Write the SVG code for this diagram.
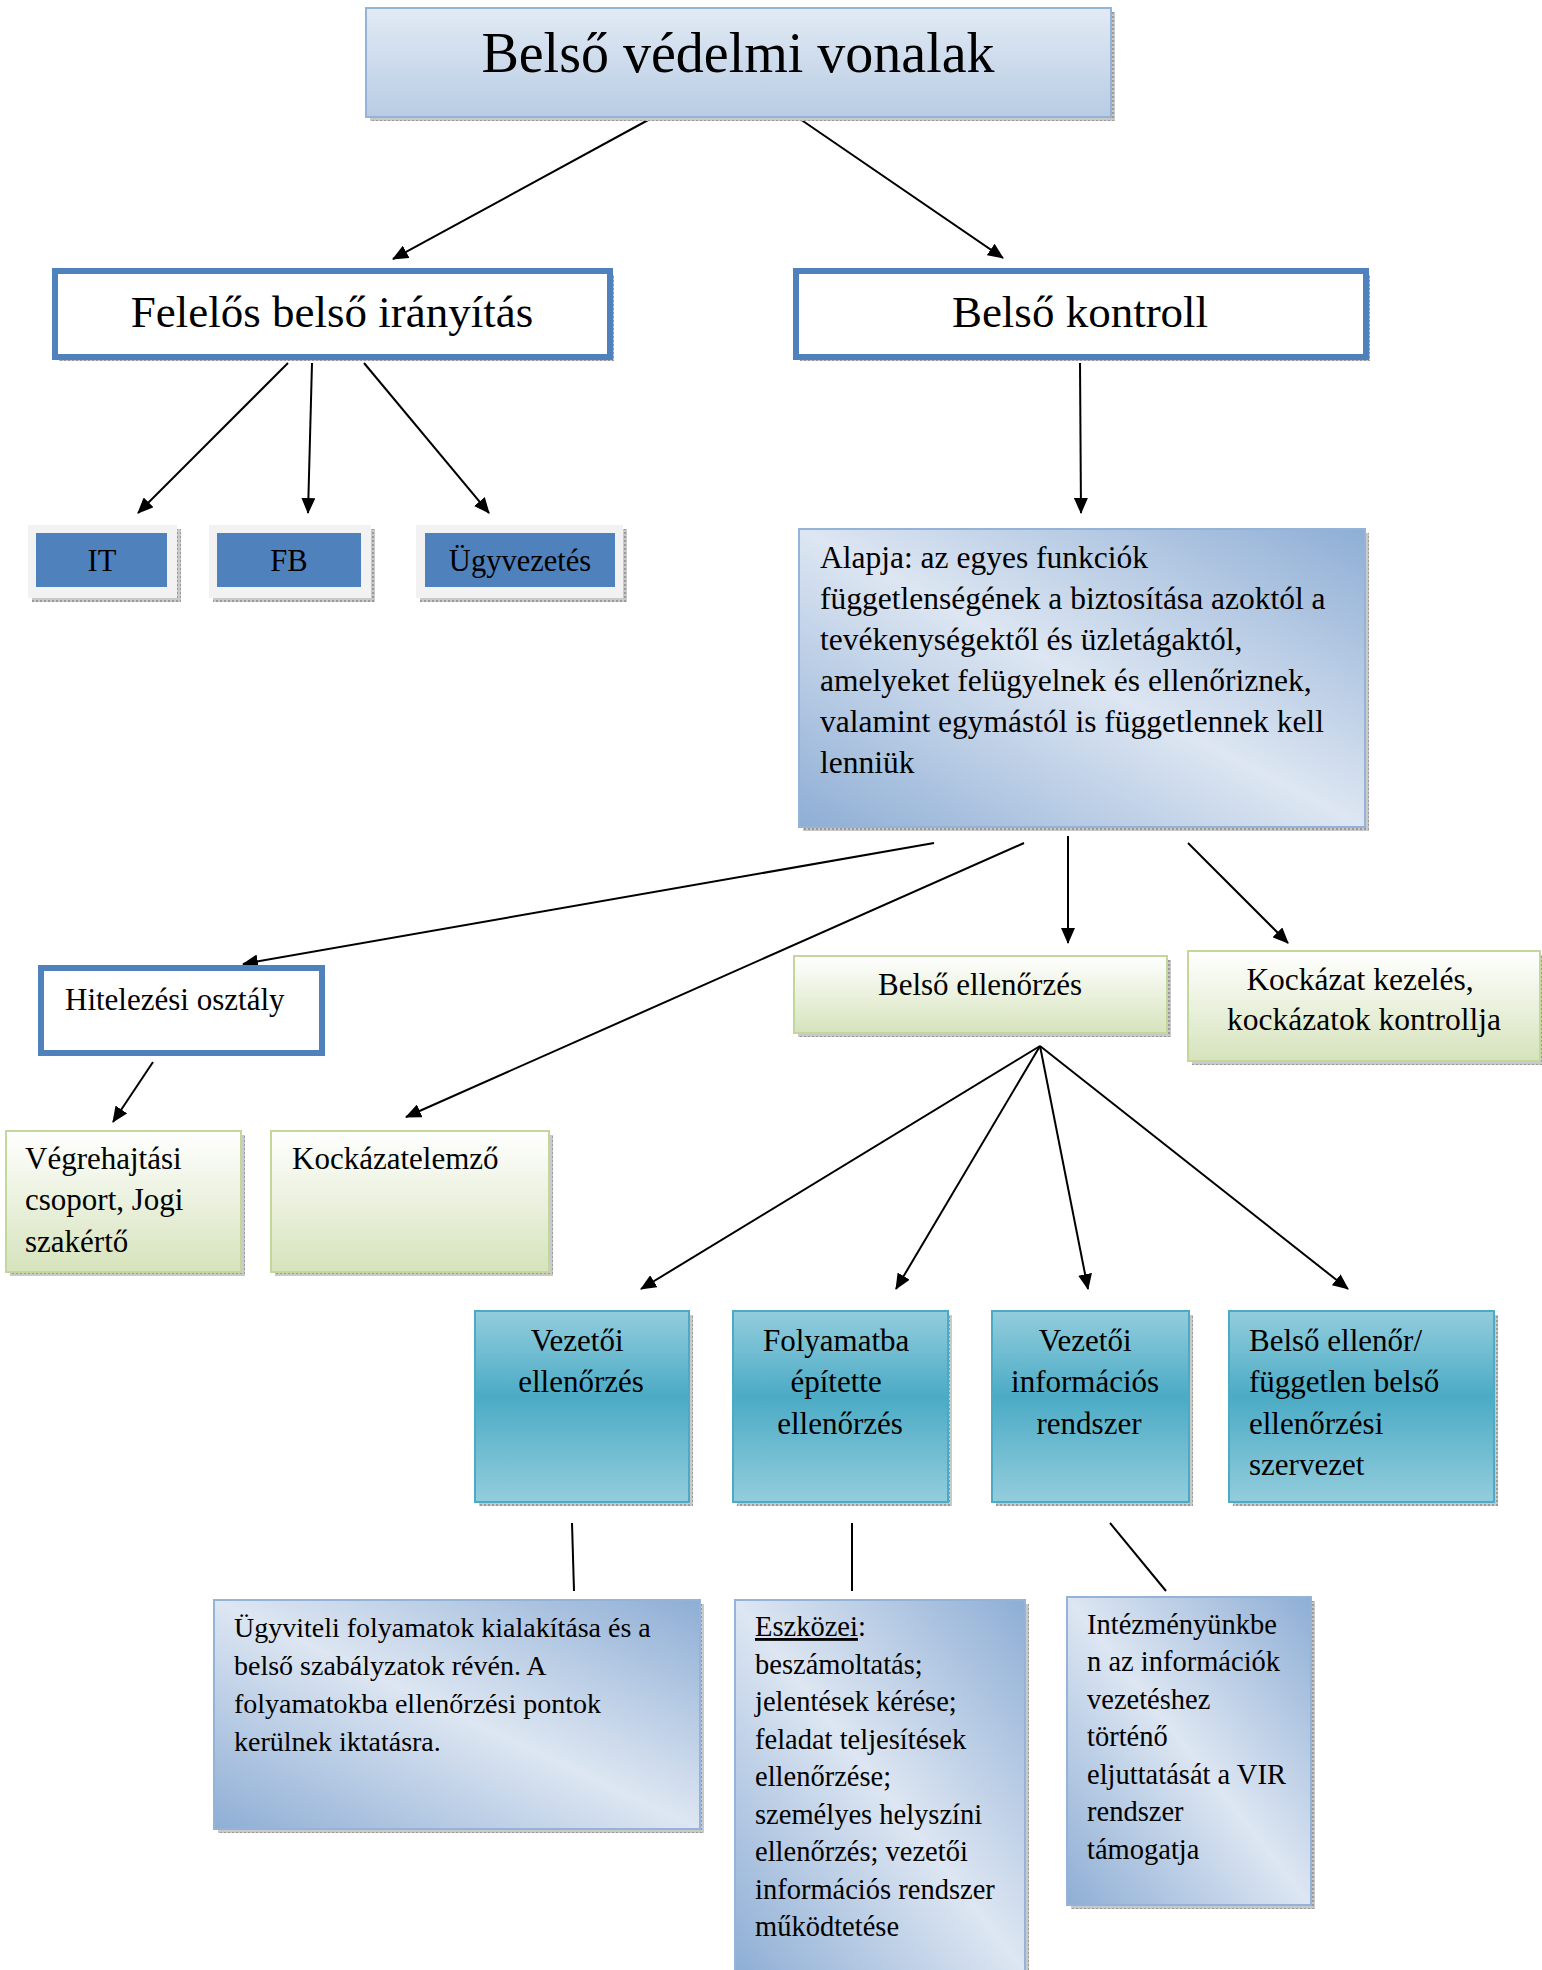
<svg xmlns="http://www.w3.org/2000/svg" width="1542" height="1970" viewBox="0 0 1542 1970">
<style>
.t{font-family:"Liberation Serif","DejaVu Serif",serif;fill:#000}
.c{text-anchor:middle}
.shadow{fill:url(#hatch)}
.conn line{stroke:#000;stroke-width:2}
.arr{marker-end:url(#ah)}
</style>
<defs>
<pattern id="hatch" width="4" height="4" patternUnits="userSpaceOnUse">
<rect width="4" height="4" fill="#c9c9c9"/>
<rect width="2" height="2" fill="#9a9a9a"/>
</pattern>
<linearGradient id="gTitle" x1="0" y1="0" x2="0" y2="1">
<stop offset="0" stop-color="#e2eaf4"/>
<stop offset="1" stop-color="#b8cce4"/>
</linearGradient>
<linearGradient id="gBlue" x1="1" y1="0" x2="0" y2="1">
<stop offset="0" stop-color="#8eaed5"/>
<stop offset="0.5" stop-color="#dde6f2"/>
<stop offset="1" stop-color="#8eaed5"/>
</linearGradient>
<linearGradient id="gGreen" x1="0" y1="0" x2="0" y2="1">
<stop offset="0" stop-color="#ffffff"/>
<stop offset="1" stop-color="#d6e3bc"/>
</linearGradient>
<linearGradient id="gTeal" x1="0" y1="0" x2="0" y2="1">
<stop offset="0" stop-color="#93cddd"/>
<stop offset="0.45" stop-color="#4babc5"/>
<stop offset="1" stop-color="#93cddd"/>
</linearGradient>
<marker id="ah" markerWidth="16" markerHeight="14" refX="15" refY="7" orient="auto" markerUnits="userSpaceOnUse">
<path d="M0,0 L16,7 L0,14 Z" fill="#000"/>
</marker>
</defs>

<g id="connectors" class="conn">
<line class="arr" x1="650" y1="119" x2="393" y2="259"/>
<line class="arr" x1="800" y1="119" x2="1003" y2="258"/>
<line class="arr" x1="288" y1="363" x2="138" y2="513"/>
<line class="arr" x1="312" y1="363" x2="308" y2="513"/>
<line class="arr" x1="364" y1="363" x2="489" y2="513"/>
<line class="arr" x1="1080" y1="363" x2="1081" y2="513"/>
<line class="arr" x1="934" y1="843" x2="243" y2="964"/>
<line class="arr" x1="1024" y1="843" x2="406" y2="1117"/>
<line class="arr" x1="1068" y1="836" x2="1068" y2="943"/>
<line class="arr" x1="1188" y1="843" x2="1288" y2="943"/>
<line class="arr" x1="153" y1="1062" x2="113" y2="1122"/>
<line class="arr" x1="1040" y1="1046" x2="641" y2="1289"/>
<line class="arr" x1="1040" y1="1046" x2="896" y2="1289"/>
<line class="arr" x1="1040" y1="1046" x2="1088" y2="1289"/>
<line class="arr" x1="1040" y1="1046" x2="1348" y2="1289"/>
<line x1="572" y1="1523" x2="574" y2="1591"/>
<line x1="852" y1="1523" x2="852" y2="1591"/>
<line x1="1110" y1="1523" x2="1166" y2="1591"/>
</g>

<g id="title">
<rect class="shadow" x="370" y="12" width="745" height="109"/>
<rect x="366" y="8" width="745" height="109" fill="url(#gTitle)" stroke="#95b3d7" stroke-width="2"/>
<text class="t c" x="738" y="72" font-size="56">Belső védelmi vonalak</text>
</g>

<g id="felelos">
<rect class="shadow" x="59" y="275" width="555" height="86"/>
<rect x="55" y="271" width="555" height="86" fill="#fff" stroke="#4f81bd" stroke-width="6"/>
<text class="t c" x="332" y="327" font-size="45">Felelős belső irányítás</text>
</g>

<g id="kontroll">
<rect class="shadow" x="800" y="275" width="570" height="86"/>
<rect x="796" y="271" width="570" height="86" fill="#fff" stroke="#4f81bd" stroke-width="6"/>
<text class="t c" x="1080" y="327" font-size="45">Belső kontroll</text>
</g>

<g id="it">
<rect class="shadow" x="32" y="529" width="149" height="73"/>
<rect x="28" y="525" width="149" height="73" fill="#f2f2f2"/>
<rect x="36" y="533" width="131" height="54" fill="#4f81bd"/>
<text class="t c" x="102" y="571" font-size="30.5">IT</text>
</g>

<g id="fb">
<rect class="shadow" x="213" y="529" width="162" height="73"/>
<rect x="209" y="525" width="162" height="73" fill="#f2f2f2"/>
<rect x="217" y="533" width="144" height="54" fill="#4f81bd"/>
<text class="t c" x="289" y="571" font-size="30.5">FB</text>
</g>

<g id="ugyvezetes">
<rect class="shadow" x="420" y="529" width="207" height="73"/>
<rect x="416" y="525" width="207" height="73" fill="#f2f2f2"/>
<rect x="425" y="533" width="190" height="54" fill="#4f81bd"/>
<text class="t c" x="520" y="571" font-size="30.5">Ügyvezetés</text>
</g>

<g id="alapja">
<rect class="shadow" x="803" y="533" width="566" height="298"/>
<rect x="799" y="529" width="566" height="298" fill="url(#gBlue)" stroke="#95b3d7" stroke-width="2"/>
<text class="t" font-size="31.5">
<tspan x="820" y="568">Alapja: az egyes funkciók</tspan>
<tspan x="820" y="609">függetlenségének a biztosítása azoktól a</tspan>
<tspan x="820" y="650">tevékenységektől és üzletágaktól,</tspan>
<tspan x="820" y="691">amelyeket felügyelnek és ellenőriznek,</tspan>
<tspan x="820" y="732">valamint egymástól is függetlennek kell</tspan>
<tspan x="820" y="773">lenniük</tspan>
</text>
</g>

<g id="hitelezesi">
<rect x="41" y="968" width="281" height="85" fill="#fff" stroke="#4f81bd" stroke-width="6"/>
<text class="t" x="65" y="1010" font-size="31">Hitelezési osztály</text>
</g>

<g id="vegrehajtasi">
<rect class="shadow" x="10" y="1135" width="235" height="141"/>
<rect x="6" y="1131" width="235" height="141" fill="url(#gGreen)" stroke="#c3d69b" stroke-width="2"/>
<text class="t" font-size="31">
<tspan x="25" y="1169">Végrehajtási</tspan>
<tspan x="25" y="1210">csoport, Jogi</tspan>
<tspan x="25" y="1252">szakértő</tspan>
</text>
</g>

<g id="kockazatelemzo">
<rect class="shadow" x="275" y="1135" width="278" height="141"/>
<rect x="271" y="1131" width="278" height="141" fill="url(#gGreen)" stroke="#c3d69b" stroke-width="2"/>
<text class="t" x="292" y="1169" font-size="31">Kockázatelemző</text>
</g>

<g id="belso-ellenorzes">
<rect class="shadow" x="798" y="960" width="373" height="77"/>
<rect x="794" y="956" width="373" height="77" fill="url(#gGreen)" stroke="#c3d69b" stroke-width="2"/>
<text class="t c" x="980" y="995" font-size="31">Belső ellenőrzés</text>
</g>

<g id="kockazat-kezeles">
<rect class="shadow" x="1192" y="955" width="350" height="110"/>
<rect x="1188" y="951" width="352" height="110" fill="url(#gGreen)" stroke="#c3d69b" stroke-width="2"/>
<text class="t c" font-size="31.5">
<tspan x="1364" y="990">Kockázat kezelés,</tspan>
<tspan x="1364" y="1030">kockázatok kontrollja</tspan>
</text>
</g>

<g id="vezetoi-ellenorzes">
<rect class="shadow" x="479" y="1315" width="214" height="191"/>
<rect x="475" y="1311" width="214" height="191" fill="url(#gTeal)" stroke="#4babc5" stroke-width="2"/>
<text class="t c" font-size="31">
<tspan x="581" y="1351">Vezetői</tspan>
<tspan x="581" y="1392">ellenőrzés</tspan>
</text>
</g>

<g id="folyamatba">
<rect class="shadow" x="737" y="1315" width="215" height="191"/>
<rect x="733" y="1311" width="215" height="191" fill="url(#gTeal)" stroke="#4babc5" stroke-width="2"/>
<text class="t c" font-size="31">
<tspan x="840" y="1351">Folyamatba</tspan>
<tspan x="840" y="1392">építette</tspan>
<tspan x="840" y="1434">ellenőrzés</tspan>
</text>
</g>

<g id="vir">
<rect class="shadow" x="996" y="1315" width="197" height="191"/>
<rect x="992" y="1311" width="197" height="191" fill="url(#gTeal)" stroke="#4babc5" stroke-width="2"/>
<text class="t c" font-size="31">
<tspan x="1089" y="1351">Vezetői</tspan>
<tspan x="1089" y="1392">információs</tspan>
<tspan x="1089" y="1434">rendszer</tspan>
</text>
</g>

<g id="belso-ellenor">
<rect class="shadow" x="1233" y="1315" width="265" height="191"/>
<rect x="1229" y="1311" width="265" height="191" fill="url(#gTeal)" stroke="#4babc5" stroke-width="2"/>
<text class="t" font-size="31">
<tspan x="1249" y="1351">Belső ellenőr/</tspan>
<tspan x="1249" y="1392">független belső</tspan>
<tspan x="1249" y="1434">ellenőrzési</tspan>
<tspan x="1249" y="1475">szervezet</tspan>
</text>
</g>

<g id="ugyviteli">
<rect class="shadow" x="218" y="1604" width="486" height="229"/>
<rect x="214" y="1600" width="486" height="229" fill="url(#gBlue)" stroke="#95b3d7" stroke-width="2"/>
<text class="t" font-size="28">
<tspan x="234" y="1637">Ügyviteli folyamatok kialakítása és a</tspan>
<tspan x="234" y="1675">belső szabályzatok révén. A</tspan>
<tspan x="234" y="1713">folyamatokba ellenőrzési pontok</tspan>
<tspan x="234" y="1751">kerülnek iktatásra.</tspan>
</text>
</g>

<g id="eszkozei">
<rect class="shadow" x="739" y="1604" width="290" height="370"/>
<rect x="735" y="1600" width="290" height="372" fill="url(#gBlue)" stroke="#95b3d7" stroke-width="2"/>
<text class="t" font-size="28.5">
<tspan x="755" y="1636"><tspan text-decoration="underline">Eszközei</tspan>:</tspan>
<tspan x="755" y="1674">beszámoltatás;</tspan>
<tspan x="755" y="1711">jelentések kérése;</tspan>
<tspan x="755" y="1749">feladat teljesítések</tspan>
<tspan x="755" y="1786">ellenőrzése;</tspan>
<tspan x="755" y="1824">személyes helyszíni</tspan>
<tspan x="755" y="1861">ellenőrzés; vezetői</tspan>
<tspan x="755" y="1899">információs rendszer</tspan>
<tspan x="755" y="1936">működtetése</tspan>
</text>
</g>

<g id="intezmeny">
<rect class="shadow" x="1071" y="1601" width="244" height="308"/>
<rect x="1067" y="1597" width="244" height="308" fill="url(#gBlue)" stroke="#95b3d7" stroke-width="2"/>
<text class="t" font-size="28.5">
<tspan x="1087" y="1634">Intézményünkbe</tspan>
<tspan x="1087" y="1671">n az információk</tspan>
<tspan x="1087" y="1709">vezetéshez</tspan>
<tspan x="1087" y="1746">történő</tspan>
<tspan x="1087" y="1784">eljuttatását a VIR</tspan>
<tspan x="1087" y="1821">rendszer</tspan>
<tspan x="1087" y="1859">támogatja</tspan>
</text>
</g>
</svg>
